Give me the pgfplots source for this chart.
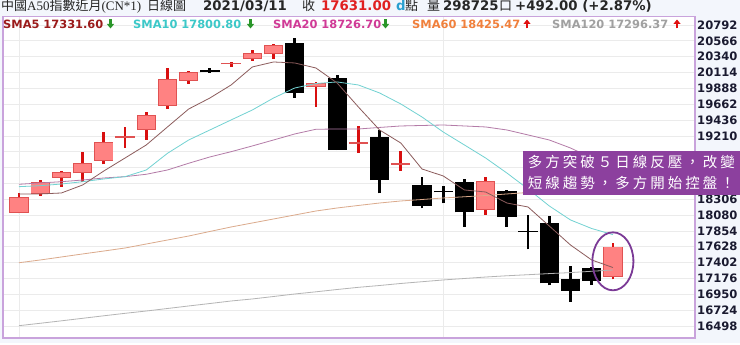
\documentclass[border=0pt]{standalone}
\usepackage{pgfplots}
\pgfplotsset{compat=1.18}
\usepackage{pgfplotstable}
\usepackage{fontspec}
\setmainfont{DejaVu Sans}
\newfontfamily\cjk{Noto Sans CJK TC}
\newfontfamily\serif{Liberation Serif}
\usetikzlibrary{arrows.meta}

\definecolor{pagebg}{HTML}{F3F6FC}
\definecolor{framepurple}{HTML}{C9A3DC}
\definecolor{gridgray}{HTML}{EBEBEB}
\definecolor{wickred}{HTML}{D80F0F}
\definecolor{bodyedge}{HTML}{E05252}
\definecolor{bodyfill}{HTML}{FF8282}
\definecolor{smafive}{HTML}{9B1B1B}
\definecolor{smaten}{HTML}{3CC8C8}
\definecolor{smatwenty}{HTML}{D03A96}
\definecolor{smasixty}{HTML}{F0803C}
\definecolor{smaonetwenty}{HTML}{A0A0A0}
\definecolor{lfive}{HTML}{8C5C5C}
\definecolor{lten}{HTML}{72D2D2}
\definecolor{ltwenty}{HTML}{B47CA8}
\definecolor{lsixty}{HTML}{DBAA8C}
\definecolor{lonetwenty}{HTML}{B4B4B4}
\definecolor{arrgreen}{HTML}{2A962A}
\definecolor{arrred}{HTML}{E01010}
\definecolor{boxpurple}{HTML}{8C409E}
\definecolor{ringpurple}{HTML}{7B3A96}
\definecolor{closered}{HTML}{E02020}
\definecolor{dcyan}{HTML}{2AA0D0}
\definecolor{ticktext}{HTML}{1A1A30}

% daily candles: index, open, high, low, close
\pgfplotstableread{
i o h l c
1 18114 18399 18105 18342
2 18381 18580 18356 18556
3 18613 18713 18485 18690
4 18676 18980 18556 18819
5 18852 19270 18804 19123
6 19184 19341 19041 19208
7 19294 19546 19151 19508
8 19636 20183 19593 20021
9 19997 20136 19950 20117
11 20231 20260 20193 20250
12 20311 20435 20283 20388
13 20374 20521 20307 20507
15 19912 19983 19626 19960
17 19095 19355 18970 19120
19 18800 18999 18709 18822
23 18152 18628 18081 18571
29 17201 17677 17164 17631
}\upcandles

\pgfplotstableread{
i o h l c
10 20150 20178 20107 20117
14 20531 20602 19755 19817
16 20040 20079 19008 19008
18 19190 19294 18391 18580
20 18509 18628 18177 18209
21 18419 18499 18248 18405
22 18556 18590 17914 18120
24 18424 18438 17914 18057
25 17853 18081 17592 17835
26 17963 18067 17078 17107
27 17168 17353 16844 16997
28 17321 17343 17082 17139
}\downcandles

% moving averages
\pgfplotstableread{
i s5 s10 s20 s60 s120
1 18381 18485 18519 17400 16502
2 18381 18499 18538 17439 16536
3 18395 18523 18556 17482 16571
4 18509 18556 18580 17525 16607
5 18709 18595 18609 17567 16643
6 18894 18628 18628 17610 16678
7 19080 18723 18662 17667 16711
8 19337 18961 18723 17724 16747
9 19593 19151 18819 17781 16783
10 19750 19294 18909 17846 16818
11 19936 19437 18984 17910 16854
12 20193 19579 19066 17967 16883
13 20264 19750 19151 18024 16918
14 20250 19893 19237 18081 16954
15 20178 19957 19304 18138 16985
16 19964 19979 19308 18181 17018
17 19622 19936 19308 18217 17049
18 19294 19822 19330 18252 17075
19 19108 19665 19351 18281 17104
20 18737 19479 19358 18302 17129
21 18638 19265 19365 18324 17154
22 18438 19080 19351 18341 17175
23 18409 18894 19337 18359 17196
24 18252 18680 19294 18381 17214
25 18195 18452 19223 18402 17229
26 17924 18210 19151 18409 17245
27 17653 18010 19037 18416 17259
28 17439 17888 18894 18421 17278
29 17331.60 17800.80 18726.70 18425.47 17296.37
}\smalines

\pgfplotsset{
  candle/.style 2 args={draw=none, mark=none, forget plot,
    error bars/.cd, y dir=plus, y explicit, error mark=none,
    error bar style={line width=#1, color=#2}},
}

\begin{document}
\begin{tikzpicture}[x=1pt,y=1pt]
\fill[pagebg] (0,0) rectangle (740,343);

\begin{axis}[
  at={(3pt,5pt)}, anchor=south west,
  scale only axis, width=692pt, height=321.3pt,
  xmin=0.246, xmax=32.87, ymin=16326, ymax=20910,
  scaled y ticks=false,
  axis background/.style={fill=white},
  axis line style={draw=framepurple, line width=1.3pt},
  xtick={1,21}, xticklabels={},
  ytick={16498,16724,16950,17176,17402,17628,17854,18080,18306,18532,18758,18984,19210,19436,19662,19888,20114,20340,20566,20792},
  yticklabels={16498,16724,16950,17176,17402,17628,17854,18080,18306,,,,19210,19436,19662,19888,20114,20340,20566,20792},
  yticklabel pos=right,
  yticklabel style={anchor=west, inner sep=0pt, xshift=2pt, text=ticktext,
    font=\fontsize{11.6}{12}\selectfont\bfseries},
  major tick length=0pt,
  xmajorgrids, ymajorgrids,
  grid style={gridgray, line width=0.7pt},
]
% wicks
\addplot[candle={2.8pt}{wickred}]
  table[x=i, y=l, y error plus expr=\thisrow{h}-\thisrow{l}] {\upcandles};
\addplot[candle={2.8pt}{black}]
  table[x=i, y=l, y error plus expr=\thisrow{h}-\thisrow{l}] {\downcandles};
% bodies
\addplot[candle={19.3pt}{bodyedge}]
  table[x=i, y=o, y error plus expr=\thisrow{c}-\thisrow{o}] {\upcandles};
\addplot[candle={17.5pt}{bodyfill}]
  table[x=i, y expr=\thisrow{o}+13, y error plus expr={max(\thisrow{c}-\thisrow{o}-26,0)}] {\upcandles};
\addplot[candle={19.3pt}{black}]
  table[x=i, y=c, y error plus expr=\thisrow{o}-\thisrow{c}] {\downcandles};
% moving averages
\addplot[lonetwenty, line width=0.8pt, mark=none] table[x=i, y=s120] {\smalines};
\addplot[lsixty, line width=0.8pt, mark=none] table[x=i, y=s60] {\smalines};
\addplot[ltwenty, line width=0.8pt, mark=none] table[x=i, y=s20] {\smalines};
\addplot[lten, line width=0.8pt, mark=none] table[x=i, y=s10] {\smalines};
\addplot[lfive, line width=0.8pt, mark=none] table[x=i, y=s5] {\smalines};
% ring round the last candle
\draw[ringpurple, line width=1.8pt] (axis cs:29,17420) ellipse [x radius=20.5pt, y radius=29pt];
\end{axis}

% title line
\begin{scope}[every node/.style={anchor=base west, inner sep=0pt, text=black!85}]
\node[font=\fontsize{13}{14}\selectfont] at (1,332) {{\cjk 中國}{\serif A50}{\cjk 指數近月}{\serif (CN*1)}};
\node[font=\fontsize{13}{14}\selectfont\cjk] at (147,332) {日線圖};
\node[font=\fontsize{13.3}{14}\selectfont\bfseries] at (203,332) {2021/03/11};
\node[font=\fontsize{13}{14}\selectfont\cjk] at (302,332) {收};
\node[font=\fontsize{13.3}{14}\selectfont\bfseries, text=closered] at (321,332) {17631.00};
\node[font=\fontsize{13.3}{14}\selectfont\bfseries, text=dcyan] at (396,332) {d};
\node[font=\fontsize{13}{14}\selectfont\cjk] at (405,332) {點};
\node[font=\fontsize{13}{14}\selectfont\cjk] at (427,332) {量};
\node[font=\fontsize{13.3}{14}\selectfont\bfseries] at (443,332) {298725};
\node[font=\fontsize{13}{14}\selectfont\cjk] at (499,332) {口};
\node[font=\fontsize{13.3}{14}\selectfont\bfseries] at (515,332) {+492.00 (+2.87\%)};
\end{scope}

% moving-average legend line
\begin{scope}[every node/.style={anchor=base west, inner sep=0pt, font=\fontsize{11.4}{12}\selectfont\bfseries}]
\node[text=smafive] at (3,314.7) {SMA5 17331.60};
\node[text=smaten] at (133,314.7) {SMA10 17800.80};
\node[text=smatwenty] at (273,314.7) {SMA20 18726.70};
\node[text=smasixty] at (412,314.7) {SMA60 18425.47};
\node[text=smaonetwenty] at (552,314.7) {SMA120 17296.37};
\end{scope}
\begin{scope}[line width=2.2pt, -{Triangle[width=7pt,length=4.5pt]}]
\draw[arrgreen] (110.5,323.5) -- (110.5,314.5);
\draw[arrgreen] (250.5,323.5) -- (250.5,314.5);
\draw[arrgreen] (385.5,323.5) -- (385.5,314.5);
\draw[arrred] (527,314.5) -- (527,323.5);
\draw[arrred] (677,314.5) -- (677,323.5);
\end{scope}

% comment box
\fill[boxpurple] (523,148) rectangle (740,192);
\foreach \ch [count=\k from 0] in {多,方,突,破,５,日,線,反,壓,，,改,變}
  \node[anchor=base, inner sep=0pt, text=white, font=\fontsize{14.5}{15}\selectfont\cjk] at (535+17.5*\k,175.5) {\ch};
\foreach \ch [count=\k from 0] in {短,線,趨,勢,，,多,方,開,始,控,盤,！}
  \node[anchor=base, inner sep=0pt, text=white, font=\fontsize{14.5}{15}\selectfont\cjk] at (535+17.5*\k,154.5) {\ch};
\end{tikzpicture}
\end{document}
